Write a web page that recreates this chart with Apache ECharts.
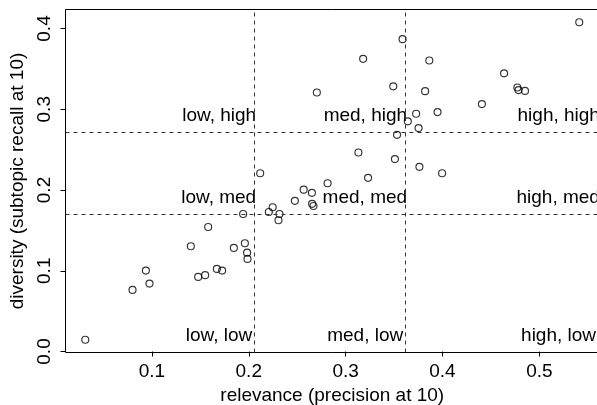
<!DOCTYPE html>
<html><head><meta charset="utf-8">
<script src="https://cdn.jsdelivr.net/npm/echarts@6/dist/echarts.min.js"></script>
<style>html,body{margin:0;padding:0;background:#fff}#c{width:597px;height:405px}</style>
</head><body><div id="c"></div>
<script>
// relevance (precision at 10) per run
const relevance = [0.0312, 0.0800, 0.0938, 0.0975, 0.1402, 0.1581, 0.1478, 0.1550, 0.1671, 0.1725,
  0.1846, 0.1942, 0.1960, 0.1983, 0.1987, 0.2118, 0.2247, 0.2207, 0.2317, 0.2307,
  0.2476, 0.2567, 0.2652, 0.2654, 0.2668, 0.2814, 0.3132, 0.3232, 0.3509, 0.3531,
  0.3762, 0.3996, 0.3588, 0.3181, 0.3864, 0.2703, 0.3492, 0.3821, 0.3728, 0.3949,
  0.3642, 0.3753, 0.5412, 0.4636, 0.4773, 0.4785, 0.4852, 0.4407];
// diversity (subtopic recall at 10) per run
const diversity = [0.0145, 0.0763, 0.1002, 0.0841, 0.1304, 0.1542, 0.0924, 0.0945, 0.1023, 0.1002,
  0.1283, 0.1703, 0.1341, 0.1224, 0.1147, 0.2207, 0.1787, 0.1728, 0.1703, 0.1625,
  0.1866, 0.2004, 0.1965, 0.1829, 0.1802, 0.2084, 0.2464, 0.2151, 0.2383, 0.2683,
  0.2287, 0.2207, 0.3868, 0.3624, 0.3604, 0.3208, 0.3284, 0.3224, 0.2944, 0.2965,
  0.2850, 0.2767, 0.4078, 0.3445, 0.3270, 0.3237, 0.3227, 0.3064];
const xTicks = [0.1, 0.2, 0.3, 0.4, 0.5];
const yTicks = [0.0, 0.1, 0.2, 0.3, 0.4];
const relevanceCuts = [0.2056, 0.3614];
const diversityCuts = [0.1703, 0.2721];
// quadrant annotation texts and their anchor points (right end of text)
const quadText = ['low, low', 'low, med', 'low, high',
                  'med, low', 'med, med', 'med, high',
                  'high, low', 'high, med', 'high, high'];
const quadX = [0.2016, 0.2056, 0.2056,
               0.3574, 0.3614, 0.3614,
               0.5565, 0.5605, 0.5605];
const quadY = [0.0, 0.1703, 0.2721,
               0.0, 0.1703, 0.2721,
               0.0, 0.1703, 0.2721];

function pad(arr) {
  const mn = Math.min(...arr), mx = Math.max(...arr), d = (mx - mn) * 0.04;
  return [mn - d, mx + d];
}
const xr = pad(relevance), yr = pad(diversity);
const FONT = "'Liberation Sans', Arial, Helvetica, sans-serif";
const FS = 19;

const pts = relevance.map((x, i) => [x, diversity[i]]);
const quadLabels = quadText.map((t, i) => [quadX[i], quadY[i], t]);

const chart = echarts.init(document.getElementById('c'), null, {renderer: 'canvas'});
chart.setOption({
  animation: false,
  backgroundColor: '#fff',
  textStyle: {fontFamily: FONT, color: '#000'},
  grid: {left: 65.5, top: 9.5, width: 533.5, height: 343, containLabel: false, outerBoundsMode: 'none',
    show: true, borderColor: '#000', borderWidth: 1, backgroundColor: 'transparent'},
  xAxis: {
    type: 'value', min: xr[0], max: xr[1],
    name: 'relevance (precision at 10)', nameLocation: 'middle', nameGap: 31,
    nameTextStyle: {fontSize: FS, fontFamily: FONT, color: '#000'},
    axisLine: {show: false},
    axisTick: {show: true, length: 5, customValues: xTicks, lineStyle: {color: '#000'}},
    axisLabel: {customValues: xTicks, fontSize: FS, fontFamily: FONT, color: '#000', margin: 10,
      formatter: v => v.toFixed(1)},
    splitLine: {show: false}
  },
  yAxis: {
    type: 'value', min: yr[0], max: yr[1],
    name: 'diversity (subtopic recall at 10)', nameLocation: 'middle', nameGap: 31,
    nameTextStyle: {fontSize: FS, fontFamily: FONT, color: '#000'},
    axisLine: {show: false},
    axisTick: {show: true, length: 5, customValues: yTicks, lineStyle: {color: '#000'}},
    axisLabel: {customValues: yTicks, fontSize: FS, fontFamily: FONT, color: '#000', margin: 11, rotate: 90,
      formatter: v => v.toFixed(1)},
    splitLine: {show: false}
  },
  series: [
    {
      type: 'scatter', data: pts, symbol: 'circle', symbolSize: 7, silent: true,
      itemStyle: {color: 'rgba(0,0,0,0)', borderColor: '#000', borderWidth: 1.15},
      markLine: {
        silent: true, symbol: 'none', label: {show: false}, precision: 6,
        lineStyle: {color: '#333', width: 1, type: [4, 4]},
        data: relevanceCuts.map(v => ({xAxis: v})).concat(diversityCuts.map(v => ({yAxis: v})))
      },
      z: 3
    },
    {
      type: 'scatter', data: quadLabels, symbolSize: 1, silent: true,
      itemStyle: {color: 'rgba(0,0,0,0)', opacity: 1},
      label: {show: true, position: 'inside', align: 'right', verticalAlign: 'middle', offset: [2, -16],
        formatter: p => p.data[2], fontSize: FS, fontFamily: FONT, color: '#000',
        textBorderWidth: 0, opacity: 1},
      z: 4
    }
  ]
});
</script>
</body></html>
